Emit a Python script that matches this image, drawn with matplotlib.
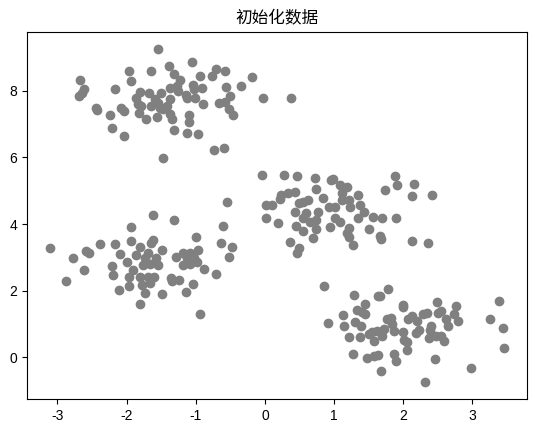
import matplotlib
matplotlib.use("Agg")
import matplotlib.pyplot as plt

plt.rcParams["axes.unicode_minus"] = False

# cluster near (-1.3, 7.8)
x_top = [-1.55, -1.06, -1.96, -1.65, -1.39, -1.32, -0.70, -0.58, -0.76, -0.94,
         -0.19, -2.67, -1.93, -1.22, -1.27, -1.04, -0.91, -0.56, -0.34, -2.61,
         -2.64, -2.68, -2.17, -1.81, -1.67, -1.50, -1.37, -1.25, -1.14, -1.01,
         -1.03, -0.51, -0.03, 0.38, -1.86, -1.83, -1.79, -1.64, -1.54, -1.37,
         -1.42, -1.47, -1.37, -1.35, -1.13, -0.89, -0.67, -0.57, -0.52, -0.46,
         -2.44, -2.42, -2.24, -2.08, -2.04, -1.82, -1.72, -1.56, -1.09, -1.10,
         -2.21, -2.03, -1.31, -1.12, -0.96, -0.73, -0.59, -1.47, -1.52, -1.59]
y_top = [9.27, 8.87, 8.61, 8.60, 8.75, 8.51, 8.67, 8.61, 8.45, 8.45,
         8.42, 8.34, 8.30, 8.32, 8.15, 8.17, 8.08, 8.12, 8.15, 8.05,
         7.95, 7.84, 8.05, 7.98, 7.95, 7.95, 8.08, 8.00, 7.87, 7.80,
         8.07, 7.85, 7.79, 7.79, 7.80, 7.60, 7.55, 7.55, 7.65, 7.75,
         7.55, 7.45, 7.30, 7.15, 7.80, 7.60, 7.65, 7.67, 7.45, 7.28,
         7.50, 7.43, 7.28, 7.50, 7.40, 7.33, 7.15, 7.22, 7.28, 7.08,
         6.89, 6.66, 6.83, 6.74, 6.71, 6.23, 6.29, 5.99, 7.50, 7.75]

# cluster near (-1.6, 2.8)
x_left = [-0.55, -1.62, -1.31, -1.93, -0.61, -3.11, -2.78, -2.59, -2.54, -2.39,
          -2.16, -1.94, -1.62, -1.64, -1.80, -2.10, -1.49, -0.99, -0.64, -0.48,
          -0.52, -2.62, -2.87, -2.21, -2.20, -2.00, -1.86, -1.74, -1.76, -1.66,
          -1.57, -1.54, -1.91, -1.96, -1.81, -1.69, -1.66, -1.78, -1.96, -2.11,
          -1.74, -1.81, -1.49, -1.36, -1.35, -1.24, -1.29, -1.18, -1.08, -0.96,
          -1.18, -1.08, -0.98, -1.13, -1.03, -0.88, -0.70, -1.04, -1.14, -0.94,
          -1.69, -1.61]
y_left = [4.67, 4.27, 4.11, 3.90, 3.94, 3.27, 2.98, 3.19, 3.12, 3.40,
          3.40, 3.49, 3.52, 3.42, 3.30, 3.10, 3.22, 3.62, 3.44, 3.32,
          3.00, 2.63, 2.30, 2.73, 2.47, 2.85, 3.07, 2.98, 2.78, 2.81,
          2.98, 2.78, 2.63, 2.41, 2.41, 2.41, 2.23, 2.18, 2.13, 2.03,
          1.93, 1.61, 1.91, 2.38, 2.30, 2.33, 3.02, 3.12, 3.12, 3.22,
          2.78, 2.81, 2.85, 2.97, 2.97, 2.65, 2.51, 2.20, 1.96, 1.28,
          3.12, 2.41]

# cluster near (1.0, 4.4)
x_mid = [-0.04, 0.28, 0.47, 0.73, 0.95, 0.99, 1.09, 1.18, 1.88, 1.91,
         2.15, 1.73, 2.12, 2.42, 0.74, 0.43, 0.33, 0.23, 0.22, 0.84,
         1.11, 1.11, 1.35, 0.01, 0.10, 0.50, 0.62, 0.55, 0.43, 0.60,
         0.77, 0.92, 1.01, 1.21, 1.23, 1.38, 1.43, 0.01, 0.19, 0.55,
         0.65, 0.74, 1.01, 1.09, 1.35, 1.56, 1.69, 1.89, 0.45, 0.55,
         0.74, 0.94, 1.21, 1.18, 1.22, 1.51, 1.66, 1.68, 0.69, 0.36,
         1.28, 0.49, 0.46, 2.12, 2.36]
y_mid = [5.46, 5.46, 5.43, 5.39, 5.31, 5.36, 5.16, 5.11, 5.44, 5.18,
         5.19, 5.01, 4.84, 4.87, 5.04, 4.97, 4.92, 4.87, 4.74, 4.79,
         4.92, 4.72, 4.87, 4.57, 4.57, 4.62, 4.72, 4.67, 4.35, 4.32,
         4.37, 4.52, 4.52, 4.72, 4.52, 4.57, 4.37, 4.17, 4.04, 4.17,
         4.07, 4.12, 4.17, 4.07, 4.17, 4.20, 4.17, 4.17, 3.95, 3.80,
         3.84, 3.92, 3.87, 3.72, 3.62, 3.85, 3.64, 3.55, 3.57, 3.47,
         3.37, 3.27, 3.12, 3.50, 3.44]

# cluster near (2.0, 0.9)
x_low = [0.85, 1.29, 1.63, 1.67, 1.78, 1.45, 1.99, 2.00, 2.49, 2.76,
         3.38, 1.13, 1.33, 1.40, 1.45, 0.91, 1.30, 1.15, 1.39, 1.22,
         1.38, 1.50, 1.57, 1.69, 1.72, 1.77, 1.82, 1.84, 1.86, 1.99,
         2.01, 2.06, 2.05, 2.07, 2.13, 2.20, 2.28, 2.34, 2.50, 2.55,
         2.40, 2.39, 2.23, 2.18, 2.37, 2.47, 2.54, 2.59, 2.62, 2.64,
         2.74, 2.79, 3.26, 3.44, 3.46, 1.27, 1.47, 1.57, 1.64, 1.86,
         1.89, 1.68, 2.46, 2.98, 2.31, 1.62, 1.55]
y_low = [2.15, 1.88, 1.83, 1.83, 2.05, 1.61, 1.58, 1.51, 1.66, 1.55,
         1.70, 1.26, 1.41, 1.36, 1.30, 1.01, 1.06, 0.92, 0.92, 0.59,
         0.59, 0.69, 0.49, 0.64, 0.84, 1.13, 1.18, 0.99, 0.79, 0.74,
         0.52, 0.46, 0.21, 1.13, 1.23, 1.08, 1.28, 1.33, 1.33, 1.38,
         0.94, 0.82, 0.82, 0.72, 0.57, 0.64, 0.64, 0.49, 1.13, 0.94,
         1.28, 1.08, 1.13, 0.86, 0.26, 0.09, -0.04, 0.02, 0.06, 0.09,
         -0.11, -0.41, -0.06, -0.33, -0.76, 0.79, 0.74]

xs = x_top + x_left + x_mid + x_low
ys = y_top + y_left + y_mid + y_low

fig = plt.figure(figsize=(5.33, 4.34), dpi=100)
ax = fig.add_axes([0.0507, 0.0806, 0.938, 0.8456])
ax.scatter(xs, ys, c="gray", s=36)
ax.set_title("初始化数据", fontfamily=["Noto Sans CJK SC", "DejaVu Sans"], fontsize=12)
for lab in ax.get_xticklabels() + ax.get_yticklabels():
    lab.set_fontfamily("Liberation Sans")
    lab.set_fontsize(10)

fig.savefig("out.png", dpi=100)
